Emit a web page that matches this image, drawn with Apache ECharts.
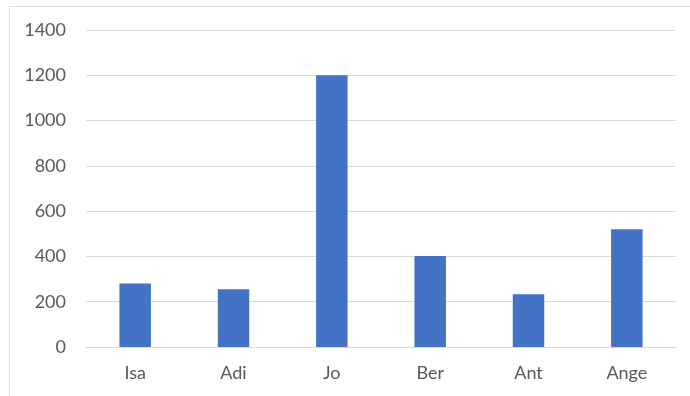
<!DOCTYPE html>
<html>
<head>
<meta charset="utf-8">
<script src="https://cdn.jsdelivr.net/npm/echarts@6/dist/echarts.min.js"></script>
<style>
  html, body { margin: 0; padding: 0; background: #fff; }
  #chart { width: 690px; height: 396px; }
</style>
</head>
<body>
<div id="chart"></div>
<script>
var names = ["Isa", "Adi", "Jo", "Ber", "Ant", "Ange"];
var amounts = [280, 255, 1200, 402, 233, 520];
var yTicks = [0, 1400, 200]; // min, max, step

var chart = echarts.init(document.getElementById("chart"));
chart.setOption({
  animation: false,
  backgroundColor: "#ffffff",
  textStyle: { fontFamily: "Lato, 'Open Sans', sans-serif" },
  // chart area frame (only the top and left edges show in the picture)
  graphic: [
    { type: "line", shape: { x1: 9, y1: 6.5, x2: 690, y2: 6.5 }, style: { stroke: "#d9d9d9", lineWidth: 1 } },
    { type: "line", shape: { x1: 9.5, y1: 6, x2: 9.5, y2: 396 }, style: { stroke: "#d9d9d9", lineWidth: 1 } }
  ],
  grid: { left: 86, right: 14, top: 30, bottom: 49 },
  xAxis: {
    type: "category",
    data: names,
    axisTick: { show: false },
    axisLine: { lineStyle: { color: "#d9d9d9", width: 1 } },
    axisLabel: { color: "#595959", fontSize: 18, margin: 17 }
  },
  yAxis: {
    type: "value",
    min: yTicks[0],
    max: yTicks[1],
    interval: yTicks[2],
    axisLine: { show: false },
    axisTick: { show: false },
    splitLine: { lineStyle: { color: "#d9d9d9", width: 1 } },
    axisLabel: {
      color: "#595959", fontSize: 18, margin: 20,
      formatter: function (v) { return String(v); }
    }
  },
  series: [{
    type: "bar",
    data: amounts,
    barWidth: "32%",
    itemStyle: { color: "#4472c4" }
  }]
});
</script>
</body>
</html>
